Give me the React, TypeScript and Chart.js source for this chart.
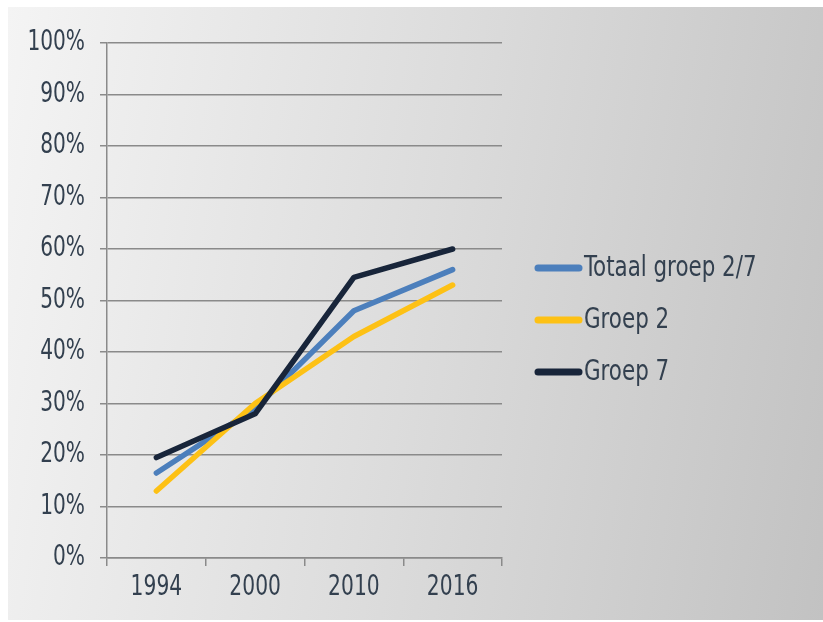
import React, { useEffect, useRef } from "react";
import { Chart, registerables } from "chart.js";

Chart.register(...registerables);

const years = ["1994", "2000", "2010", "2016"];
const totaal = [16.5, 29, 48, 56];
const groep2 = [13, 30, 43, 53];
const groep7 = [19.5, 28, 54.5, 60];
const seriesLabels = ["Totaal groep 2/7", "Groep 2", "Groep 7"];
const seriesColors = ["#4c7fbc", "#fdc115", "#18253a"];

const FONT = '"DejaVu Sans Condensed", "Liberation Sans Narrow", sans-serif';
const TEXT = "#33404f";

// Text in the reference is narrow/tall: squeeze tick labels horizontally (y) / stretch vertically (x)
function squeezeY(s: any) {
  if (s.__patched) return;
  s.__patched = true;
  const orig = s.drawLabels.bind(s);
  s.drawLabels = (area: any) => {
    const ctx = s.ctx;
    const ax = s.right - s.options.grid.tickLength - s.options.ticks.padding;
    ctx.save();
    ctx.translate(ax, 0);
    ctx.scale(0.8, 1);
    ctx.translate(-ax, 0);
    orig(area);
    ctx.restore();
  };
}
function stretchX(s: any) {
  if (s.__patched) return;
  s.__patched = true;
  const orig = s.drawLabels.bind(s);
  s.drawLabels = (area: any) => {
    const ctx = s.ctx;
    const cy = s.top + 30;
    ctx.save();
    ctx.translate(0, cy);
    ctx.scale(1, 1.25);
    ctx.translate(0, -cy);
    orig(area);
    ctx.restore();
  };
}

const legendPlugin = {
  id: "sideLegend",
  afterDraw(chart: any) {
    const ctx = chart.ctx;
    const area = chart.chartArea;
    const x0 = area.right + 33;
    const yStart = 261;
    const step = 52;
    ctx.save();
    chart.data.datasets.forEach((ds: any, i: number) => {
      const y = yStart + i * step;
      ctx.strokeStyle = ds.borderColor;
      ctx.lineWidth = 7;
      ctx.lineCap = "round";
      ctx.beginPath();
      ctx.moveTo(x0 + 3, y);
      ctx.lineTo(x0 + 44, y);
      ctx.stroke();
      const tx = x0 + 49;
      ctx.save();
      ctx.translate(tx, 0);
      ctx.scale(0.85, 1);
      ctx.fillStyle = TEXT;
      ctx.font = `28px ${FONT}`;
      ctx.textBaseline = "middle";
      ctx.textAlign = "left";
      ctx.fillText(ds.label, 0, y + 1);
      ctx.restore();
    });
    ctx.restore();
  },
};

export default function App() {
  const ref = useRef<HTMLCanvasElement | null>(null);
  useEffect(() => {
    if (!ref.current) return;
    const mk = (label: string, data: number[], color: string, order: number) => ({
      label,
      data,
      order,
      borderColor: color,
      backgroundColor: color,
      borderWidth: 5.5,
      pointRadius: 0,
      tension: 0,
      borderCapStyle: "round" as const,
      borderJoinStyle: "round" as const,
    });
    const chart = new Chart(ref.current, {
      type: "line",
      data: {
        labels: years,
        datasets: [
          mk(seriesLabels[0], totaal, seriesColors[0], 2),
          mk(seriesLabels[1], groep2, seriesColors[1], 1),
          mk(seriesLabels[2], groep7, seriesColors[2], 0),
        ],
      },
      options: {
        animation: false,
        responsive: false,
        layout: { padding: { left: 0, top: 36, right: 321, bottom: 0 } },
        plugins: { legend: { display: false }, tooltip: { enabled: false } },
        scales: {
          x: {
            offset: true,
            grid: {
              offset: true,
              drawOnChartArea: false,
              tickLength: 8,
              color: "#8a8a8a",
              lineWidth: 1.5,
            },
            border: { display: true, color: "#8a8a8a", width: 1.5 },
            ticks: { color: TEXT, font: { family: FONT, size: 22.5 }, padding: 8 },
            afterFit: (s: any) => {
              s.height = 62;
              stretchX(s);
            },
          },
          y: {
            min: 0,
            max: 100,
            ticks: {
              stepSize: 10,
              color: TEXT,
              font: { family: FONT, size: 28 },
              padding: 15,
              callback: (v: any) => `${v}%`,
            },
            grid: { color: "#8a8a8a", lineWidth: 1.5, tickLength: 7 },
            border: { display: true, color: "#8a8a8a", width: 1.5 },
            afterFit: (s: any) => {
              s.width = 99;
              squeezeY(s);
            },
          },
        },
      },
      plugins: [legendPlugin],
    });
    return () => chart.destroy();
  }, []);
  return (
    <div
      style={{
        position: "absolute",
        left: 8,
        top: 7,
        width: 815,
        height: 613,
        background: "linear-gradient(100deg, #f4f4f4 0%, #dcdcdc 50%, #c2c2c2 100%)",
      }}
    >
      <canvas ref={ref} width={815} height={613} style={{ display: "block" }} />
    </div>
  );
}
